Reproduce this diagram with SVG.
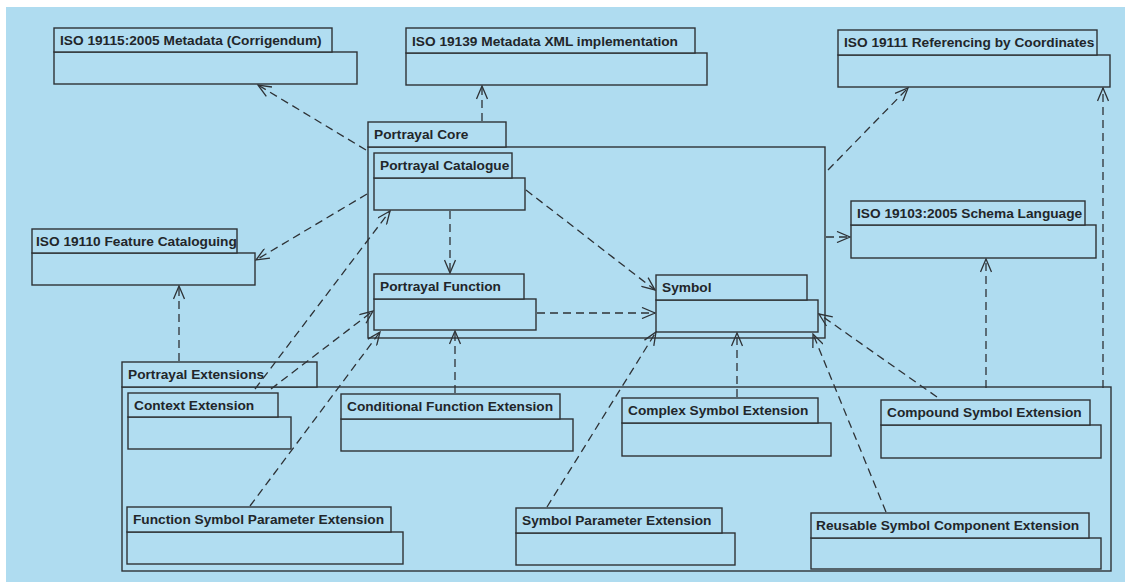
<svg xmlns="http://www.w3.org/2000/svg" width="1125" height="582" viewBox="0 0 1125 582">
<defs>
<style>
.bg{fill:#afdcf0}
.box{fill:#b1ddf1;stroke:#2e3236;stroke-width:1.4}
.t{font-family:"Liberation Sans",Arial,sans-serif;font-weight:bold;font-size:13.7px;fill:#22262a}
.dep{fill:none;stroke:#2e3236;stroke-width:1.3;stroke-dasharray:8 5;marker-end:url(#open)}
</style>
<marker id="open" viewBox="0 0 15 12" refX="14" refY="6" markerWidth="15" markerHeight="12" markerUnits="userSpaceOnUse" orient="auto">
<path d="M1,0.5 L14,6 L1,11.5" fill="none" stroke="#2e3236" stroke-width="1.3" stroke-dasharray="none"/>
</marker>
</defs>
<rect x="0" y="0" width="1125" height="582" fill="#ffffff"/>
<rect class="bg" x="6" y="7" width="1119" height="575"/>

<g id="portrayal-core">
<rect class="box" x="368" y="147" width="457" height="191"/>
<rect class="box" x="368" y="122" width="138" height="25"/>
<text class="t" x="374" y="139">Portrayal Core</text>
</g>
<g id="portrayal-extensions">
<rect class="box" x="122" y="387" width="989" height="184"/>
<rect class="box" x="122" y="362" width="195" height="25"/>
<text class="t" x="128" y="379">Portrayal Extensions</text>
</g>

<g id="iso19115">
<rect class="box" x="54" y="52" width="303" height="32"/>
<rect class="box" x="54" y="28" width="278" height="24"/>
<text class="t" x="60" y="45">ISO 19115:2005 Metadata (Corrigendum)</text>
</g>
<g id="iso19139">
<rect class="box" x="406" y="53" width="301" height="32"/>
<rect class="box" x="406" y="28" width="289" height="25"/>
<text class="t" x="412" y="46">ISO 19139 Metadata XML implementation</text>
</g>
<g id="iso19111">
<rect class="box" x="838" y="55" width="272" height="32"/>
<rect class="box" x="838" y="30" width="259" height="25"/>
<text class="t" x="844" y="47">ISO 19111 Referencing by Coordinates</text>
</g>
<g id="iso19103">
<rect class="box" x="851" y="225" width="245" height="33"/>
<rect class="box" x="851" y="201" width="234" height="24"/>
<text class="t" x="857" y="218">ISO 19103:2005 Schema Language</text>
</g>
<g id="iso19110">
<rect class="box" x="32" y="253" width="223" height="32"/>
<rect class="box" x="32" y="229" width="205" height="24"/>
<text class="t" x="36" y="246">ISO 19110 Feature Cataloguing</text>
</g>
<g id="portrayal-catalogue">
<rect class="box" x="374" y="178" width="151" height="32"/>
<rect class="box" x="374" y="153" width="138" height="25"/>
<text class="t" x="380" y="170">Portrayal Catalogue</text>
</g>
<g id="portrayal-function">
<rect class="box" x="374" y="299" width="162" height="31"/>
<rect class="box" x="374" y="274" width="150" height="25"/>
<text class="t" x="380" y="291">Portrayal Function</text>
</g>
<g id="symbol">
<rect class="box" x="656" y="300" width="162" height="32"/>
<rect class="box" x="656" y="275" width="151" height="25"/>
<text class="t" x="662" y="292">Symbol</text>
</g>
<g id="context-extension">
<rect class="box" x="128" y="417" width="163" height="32"/>
<rect class="box" x="128" y="393" width="150" height="24"/>
<text class="t" x="134" y="410">Context Extension</text>
</g>
<g id="conditional-function-extension">
<rect class="box" x="341" y="419" width="232" height="32"/>
<rect class="box" x="341" y="394" width="219" height="25"/>
<text class="t" x="347" y="411">Conditional Function Extension</text>
</g>
<g id="complex-symbol-extension">
<rect class="box" x="622" y="423" width="209" height="33"/>
<rect class="box" x="622" y="398" width="196" height="25"/>
<text class="t" x="628" y="415">Complex Symbol Extension</text>
</g>
<g id="compound-symbol-extension">
<rect class="box" x="881" y="425" width="220" height="33"/>
<rect class="box" x="881" y="400" width="209" height="25"/>
<text class="t" x="887" y="417">Compound Symbol Extension</text>
</g>
<g id="function-symbol-parameter-extension">
<rect class="box" x="127" y="532" width="276" height="32"/>
<rect class="box" x="127" y="507" width="264" height="25"/>
<text class="t" x="133" y="524">Function Symbol Parameter Extension</text>
</g>
<g id="symbol-parameter-extension">
<rect class="box" x="516" y="533" width="219" height="32"/>
<rect class="box" x="516" y="508" width="206" height="25"/>
<text class="t" x="522" y="525">Symbol Parameter Extension</text>
</g>
<g id="reusable-symbol-component-extension">
<rect class="box" x="811" y="538" width="290" height="31"/>
<rect class="box" x="811" y="513" width="278" height="25"/>
<text class="t" x="816" y="530">Reusable Symbol Component Extension</text>
</g>

<g id="connectors">
<path class="dep" d="M366,150 L258,85"/>
<path class="dep" d="M482,121 L482,86"/>
<path class="dep" d="M828,170 L908,88"/>
<path class="dep" d="M826,237 L850,237"/>
<path class="dep" d="M367,194 L256,260"/>
<path class="dep" d="M450,211 L450,273"/>
<path class="dep" d="M526,190 L655,290"/>
<path class="dep" d="M537,313 L655,313"/>
<path class="dep" d="M179,361 L179,286"/>
<path class="dep" d="M255,389 L390,211"/>
<path class="dep" d="M271,389 L373,311"/>
<path class="dep" d="M250,506 L380,332"/>
<path class="dep" d="M455,393 L455,331"/>
<path class="dep" d="M547,507 L656,332"/>
<path class="dep" d="M737,397 L737,333"/>
<path class="dep" d="M886,512 L813,334"/>
<path class="dep" d="M937,397 L819,314"/>
<path class="dep" d="M986,388 L986,259"/>
<path class="dep" d="M1103,388 L1103,88"/>
</g>
</svg>
